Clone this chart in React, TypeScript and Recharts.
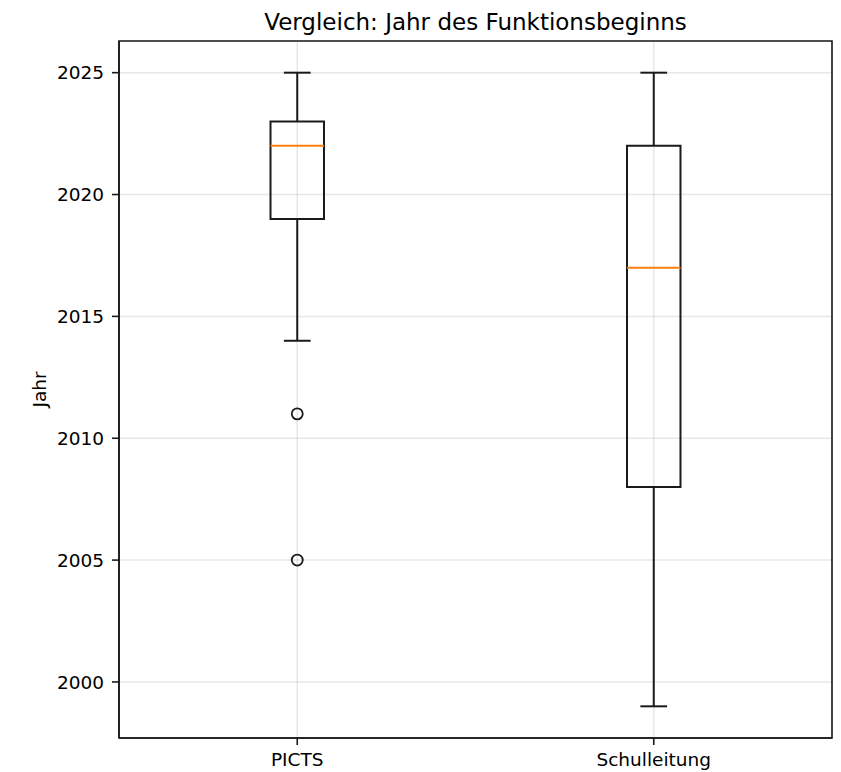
import React from 'react';
import {
  ComposedChart,
  XAxis,
  YAxis,
  CartesianGrid,
  ReferenceArea,
  ReferenceLine,
  Scatter,
  Label,
} from 'recharts';

const categories = ['PICTS', 'Schulleitung'];
const whiskerLow = [2014, 1999];
const q1 = [2019, 2008];
const median = [2022, 2017];
const q3 = [2023, 2022];
const whiskerHigh = [2025, 2025];
const outliers = [[2011, 2005], []];
const yTicks = [2000, 2005, 2010, 2015, 2020, 2025];

const font = '"DejaVu Sans", sans-serif';
const LINE = '#1a1a1a';
const LW = 2;
const BOX_HALF = 0.075;
const CAP_HALF = 0.0375;
const xDomain = [0.5, 2.5];

// matplotlib-style 5% padding around the data range
const yMin = Math.min(...whiskerLow, ...outliers.flat());
const yMax = Math.max(...whiskerHigh, ...outliers.flat());
const pad = (yMax - yMin) * 0.05;
const yDomain = [yMin - pad, yMax + pad];

const flierData = outliers.flatMap((vals, i) => vals.map((v) => ({ x: i + 1, y: v })));

const Flier = (props: any) => (
  <circle cx={props.cx} cy={props.cy} r={5.5} fill="none" stroke={LINE} strokeWidth={1.8} />
);

const YLabel = (props: any) => {
  const vb = props.viewBox;
  const x = 46;
  const y = vb.y + vb.height / 2;
  return (
    <text
      x={x}
      y={y}
      transform={`rotate(-90, ${x}, ${y})`}
      textAnchor="middle"
      fontSize={18.5}
      fontFamily={font}
      fill="#000"
    >
      Jahr
    </text>
  );
};

export default function App() {
  const tickStyle = { fill: '#000', fontSize: 18.5, fontFamily: font };
  return (
    <div style={{ position: 'absolute', left: 0, top: 0, width: 841, height: 772, background: '#fff' }}>
      <ComposedChart
        width={841}
        height={772}
        margin={{ top: 41, right: 9, bottom: 0, left: 0 }}
        style={{ fontFamily: font }}
      >
        <CartesianGrid stroke="#b0b0b0" strokeOpacity={0.3} strokeWidth={1.5} />
        <XAxis
          type="number"
          dataKey="x"
          domain={xDomain}
          ticks={[1, 2]}
          allowDataOverflow
          tickFormatter={(v: number) => categories[v - 1] ?? ''}
          height={34}
          tickSize={7}
          tickMargin={8}
          tick={tickStyle}
          axisLine={{ stroke: LINE, strokeWidth: 1.6 }}
          tickLine={{ stroke: LINE, strokeWidth: 1.6 }}
        />
        <YAxis
          type="number"
          dataKey="y"
          domain={yDomain}
          ticks={yTicks}
          allowDataOverflow
          width={119}
          tickSize={7}
          tickMargin={8}
          tick={tickStyle}
          axisLine={{ stroke: LINE, strokeWidth: 1.6 }}
          tickLine={{ stroke: LINE, strokeWidth: 1.6 }}
        >
          <Label content={YLabel} />
        </YAxis>

        {/* axes frame + title */}
        <ReferenceArea
          x1={xDomain[0]}
          x2={xDomain[1]}
          y1={yDomain[0]}
          y2={yDomain[1]}
          fill="none"
          fillOpacity={0}
          stroke={LINE}
          strokeWidth={1.6}
          strokeOpacity={1}
          ifOverflow="visible"
        >
          <Label
            value="Vergleich: Jahr des Funktionsbeginns"
            position="top"
            offset={11.5}
            fontSize={23}
            fontFamily={font}
            fill="#000"
          />
        </ReferenceArea>

        {categories.map((c, i) => {
          const p = i + 1;
          return (
            <React.Fragment key={c}>
              <ReferenceLine
                segment={[{ x: p, y: whiskerLow[i] }, { x: p, y: q1[i] }]}
                stroke={LINE}
                strokeWidth={LW}
              />
              <ReferenceLine
                segment={[{ x: p, y: q3[i] }, { x: p, y: whiskerHigh[i] }]}
                stroke={LINE}
                strokeWidth={LW}
              />
              <ReferenceLine
                segment={[{ x: p - CAP_HALF, y: whiskerLow[i] }, { x: p + CAP_HALF, y: whiskerLow[i] }]}
                stroke={LINE}
                strokeWidth={LW}
              />
              <ReferenceLine
                segment={[{ x: p - CAP_HALF, y: whiskerHigh[i] }, { x: p + CAP_HALF, y: whiskerHigh[i] }]}
                stroke={LINE}
                strokeWidth={LW}
              />
              <ReferenceArea
                x1={p - BOX_HALF}
                x2={p + BOX_HALF}
                y1={q1[i]}
                y2={q3[i]}
                fill="none"
                fillOpacity={0}
                stroke={LINE}
                strokeWidth={LW}
                strokeOpacity={1}
              />
              <ReferenceLine
                segment={[{ x: p - BOX_HALF, y: median[i] }, { x: p + BOX_HALF, y: median[i] }]}
                stroke="#ff7f0e"
                strokeWidth={LW}
              />
            </React.Fragment>
          );
        })}

        <Scatter data={flierData} dataKey="y" shape={Flier} isAnimationActive={false} />
      </ComposedChart>
    </div>
  );
}
